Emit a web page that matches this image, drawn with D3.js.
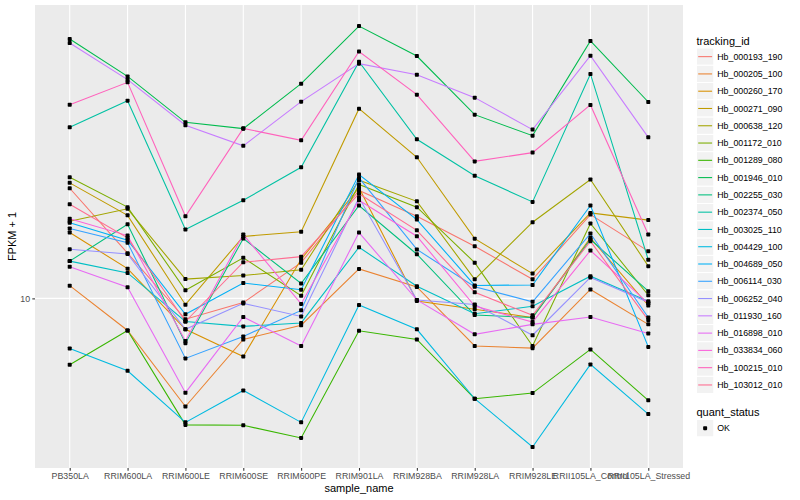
<!DOCTYPE html>
<html><head><meta charset="utf-8">
<script src="https://cdn.jsdelivr.net/npm/d3@7"></script>
<style>
body{margin:0;background:#fff;}
text{font-family:"Liberation Sans",Arial,sans-serif;}
</style></head>
<body><svg id="chart" width="800" height="500"></svg>
<script>
const categories = ["PB350LA","RRIM600LA","RRIM600LE","RRIM600SE","RRIM600PE","RRIM901LA","RRIM928BA","RRIM928LA","RRIM928LE","RRII105LA_Control","RRII105LA_Stressed"];
const trackingIds = ["Hb_000193_190","Hb_000205_100","Hb_000260_170","Hb_000271_090","Hb_000638_120","Hb_001172_010","Hb_001289_080","Hb_001946_010","Hb_002255_030","Hb_002374_050","Hb_003025_110","Hb_004429_100","Hb_004689_050","Hb_006114_030","Hb_006252_040","Hb_011930_160","Hb_016898_010","Hb_033834_060","Hb_100215_010","Hb_103012_010"];
const colors = ["#F8766D","#EA8331","#D89000","#C09B00","#A3A500","#7CAE00","#39B600","#00BB4E","#00BF7D","#00C1A3","#00BFC4","#00BAE0","#00B0F6","#35A2FF","#9590FF","#C77CFF","#E76BF3","#FA62DB","#FF62BC","#FF6C91"];

// FPKM + 1 per sample, in category order
const Hb_000193_190 = [15.27,11.90,9.23,9.84,11.47,15.14,13.71,12.22,10.76,13.80,11.99];
const Hb_000205_100 = [10.50,8.84,6.60,8.54,9.02,11.20,10.45,8.33,8.26,10.35,9.05];
const Hb_000260_170 = [12.88,11.21,8.88,8.00,11.62,15.30,9.90,9.59,9.29,12.62,9.73];
const Hb_000271_090 = [15.59,13.76,9.76,12.69,12.92,20.73,17.20,12.58,11.00,13.89,13.51];
const Hb_000638_120 = [13.45,14.11,10.77,10.92,11.16,15.75,14.52,10.76,13.40,15.79,11.32];
const Hb_001172_010 = [15.93,14.20,10.32,11.69,10.10,15.49,14.20,11.47,8.33,13.34,10.12];
const Hb_001289_080 = [7.75,8.84,6.15,6.14,5.85,8.83,8.54,6.80,6.95,8.22,6.76];
const Hb_001946_010 = [27.09,23.47,19.67,19.20,22.82,28.48,25.38,20.26,18.69,26.89,21.27];
const Hb_002255_030 = [11.54,13.30,8.42,12.59,10.59,14.29,11.85,9.38,9.29,12.54,10.28];
const Hb_002374_050 = [19.30,21.38,13.03,14.58,16.55,24.84,18.43,16.02,14.49,23.69,11.60];
const Hb_003025_110 = [11.54,11.03,9.15,8.98,9.10,12.17,10.48,9.43,9.70,10.89,9.89];
const Hb_004429_100 = [8.25,7.57,6.21,7.02,6.21,9.75,8.88,6.80,5.65,7.76,6.41];
const Hb_004689_050 = [13.37,12.51,9.41,10.61,10.34,16.10,13.54,10.51,10.53,14.29,8.30];
const Hb_006114_030 = [13.08,12.38,7.94,8.64,9.55,15.89,12.07,10.46,9.87,12.83,9.29];
const Hb_006252_040 = [12.08,11.86,8.88,9.81,9.33,14.73,9.94,9.77,8.68,10.84,9.85];
const Hb_011930_160 = [26.68,23.18,19.45,17.97,21.30,24.65,23.62,21.63,19.13,25.41,18.57];
const Hb_016898_010 = [11.29,10.44,6.96,9.31,8.33,12.88,9.94,8.71,9.05,9.31,8.74];
const Hb_033834_060 = [13.58,12.73,8.49,12.78,9.79,14.58,12.70,9.71,9.13,12.02,9.81];
const Hb_100215_010 = [21.05,22.94,13.71,19.22,18.36,25.83,21.88,16.93,17.51,21.03,12.78];
const Hb_103012_010 = [14.36,12.62,9.15,11.49,11.74,14.95,12.99,10.24,9.37,12.46,9.20];
const seriesValues = [Hb_000193_190,Hb_000205_100,Hb_000260_170,Hb_000271_090,Hb_000638_120,Hb_001172_010,Hb_001289_080,Hb_001946_010,Hb_002255_030,Hb_002374_050,Hb_003025_110,Hb_004429_100,Hb_004689_050,Hb_006114_030,Hb_006252_040,Hb_011930_160,Hb_016898_010,Hb_033834_060,Hb_100215_010,Hb_103012_010];
const yTicks = [10];
const quantLevels = ["OK"];

const series = trackingIds.map((id,i)=>({id, color:colors[i], values: seriesValues[i].map((v,j)=>({cat:categories[j], v}))}));

const svg = d3.select("#chart");
const P = {l:35, r:683, t:5, b:468};

svg.append("rect").attr("x",0).attr("y",0).attr("width",800).attr("height",500).attr("fill","#fff");
svg.append("rect").attr("x",P.l).attr("y",P.t).attr("width",P.r-P.l).attr("height",P.b-P.t).attr("fill","#EBEBEB");

const x = d3.scalePoint().domain(categories).range([P.l,P.r]).padding(0.6);
const all = seriesValues.flat();
const lo = Math.log10(d3.min(all)), hi = Math.log10(d3.max(all)), span = hi-lo;
const y = d3.scaleLog().domain([Math.pow(10,lo-0.05*span), Math.pow(10,hi+0.05*span)]).range([P.b,P.t]);

// grid
const g = svg.append("g");
g.selectAll(".vg").data(categories).enter().append("line")
  .attr("x1",d=>x(d)).attr("x2",d=>x(d)).attr("y1",P.t).attr("y2",P.b)
  .attr("stroke","#fff").attr("stroke-width",1.07);
g.selectAll(".hg").data(yTicks).enter().append("line")
  .attr("x1",P.l).attr("x2",P.r).attr("y1",d=>y(d)).attr("y2",d=>y(d))
  .attr("stroke","#fff").attr("stroke-width",1.07);

// lines
const line = d3.line().x(d=>x(d.cat)).y(d=>y(d.v));
svg.append("g").selectAll("path").data(series).enter().append("path")
  .attr("d",d=>line(d.values)).attr("fill","none").attr("stroke",d=>d.color).attr("stroke-width",1.07);

// points
const pts = series.flatMap(s=>s.values);
svg.append("g").selectAll("rect").data(pts).enter().append("rect")
  .attr("x",d=>x(d.cat)-2).attr("y",d=>y(d.v)-2).attr("width",4).attr("height",4).attr("rx",0.8).attr("fill","#000");

// axes
const xAxis = d3.axisBottom(x).tickSize(2.7).tickPadding(2.5);
const xa = svg.append("g").attr("transform",`translate(0,${P.b})`).call(xAxis);
xa.select(".domain").remove();
xa.selectAll("line").attr("stroke","#333").attr("stroke-width",1.07);
xa.selectAll("text").attr("fill","#4D4D4D").style("font-size","8.8px").attr("font-family","Liberation Sans, Arial, sans-serif");

const yAxis = d3.axisLeft(y).tickValues(yTicks).tickFormat(d3.format("d")).tickSize(2.7).tickPadding(2.2);
const ya = svg.append("g").attr("transform",`translate(${P.l},0)`).call(yAxis);
ya.select(".domain").remove();
ya.selectAll("line").attr("stroke","#333").attr("stroke-width",1.07);
ya.selectAll("text").attr("fill","#4D4D4D").style("font-size","8.8px").attr("font-family","Liberation Sans, Arial, sans-serif");

svg.append("text").attr("x",(P.l+P.r)/2).attr("y",492).attr("text-anchor","middle").style("font-size","11px").attr("fill","#000").text("sample_name");
svg.append("text").attr("transform",`translate(16,${(P.t+P.b)/2}) rotate(-90)`).attr("text-anchor","middle").style("font-size","11px").attr("fill","#000").text("FPKM + 1");

// legend
const L = svg.append("g");
const kx = 696.5, ky0 = 48, ks = 17.28;
L.append("text").attr("x",kx).attr("y",44.5).style("font-size","11px").attr("fill","#000").text("tracking_id");
const items = L.selectAll(".li").data(series).enter().append("g").attr("transform",(d,i)=>`translate(${kx},${ky0+i*ks})`);
items.append("rect").attr("width",ks).attr("height",ks).attr("fill","#F2F2F2").attr("stroke","#fff").attr("stroke-width",1);
items.append("line").attr("x1",1.7).attr("x2",ks-1.7).attr("y1",ks/2).attr("y2",ks/2).attr("stroke",d=>d.color).attr("stroke-width",1.07);
items.append("text").attr("x",ks+3.5).attr("y",ks/2+3.1).style("font-size","8.8px").attr("fill","#000").text(d=>d.id);

const qy = 419.5;
L.append("text").attr("x",kx).attr("y",416).style("font-size","11px").attr("fill","#000").text("quant_status");
const q = L.selectAll(".qi").data(quantLevels).enter().append("g").attr("transform",(d,i)=>`translate(${kx},${qy+i*ks})`);
q.append("rect").attr("width",ks).attr("height",ks).attr("fill","#F2F2F2").attr("stroke","#fff");
q.append("rect").attr("x",ks/2-2).attr("y",ks/2-2).attr("width",4).attr("height",4).attr("rx",0.8).attr("fill","#000");
q.append("text").attr("x",ks+3.5).attr("y",ks/2+3.1).style("font-size","8.8px").attr("fill","#000").text(d=>d);
</script></body></html>
